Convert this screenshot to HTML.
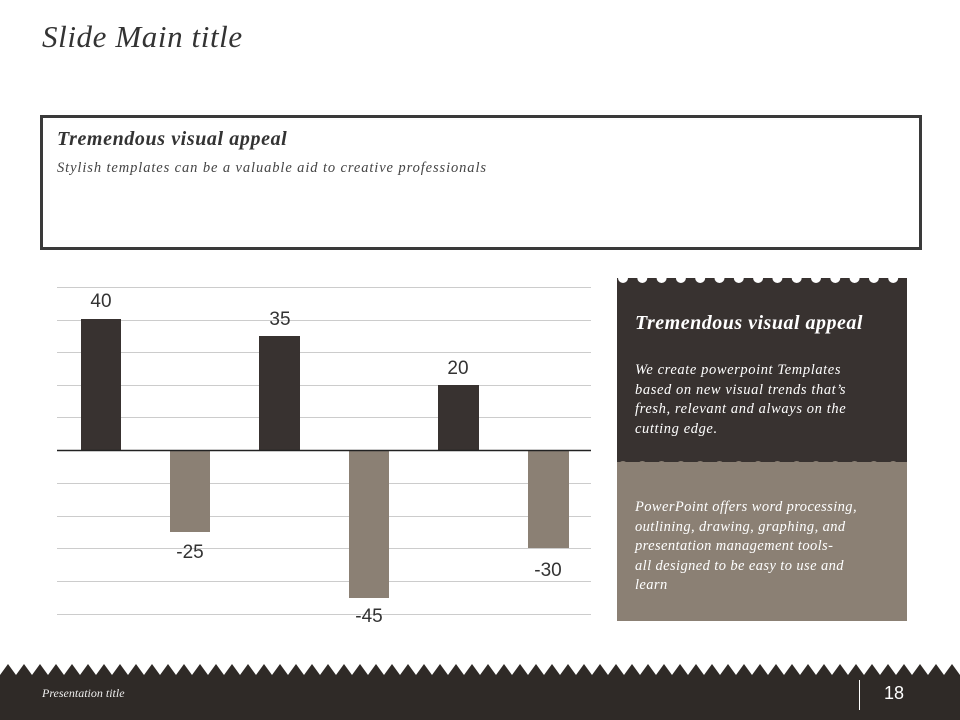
<!DOCTYPE html>
<html><head><style>
body{margin:0;width:960px;height:720px;background:#fff;position:relative;overflow:hidden;font-family:"Liberation Serif",serif}
.a{position:absolute;white-space:nowrap}
</style></head><body>
<div class="a" style="left:42px;top:19px;font-size:31px;letter-spacing:0.6px;font-style:italic;color:#333">Slide Main title</div>
<div class="a" style="left:40px;top:115px;width:876px;height:129px;border:3px solid #3a3a3a"></div>
<div class="a" style="left:57px;top:128px;font-size:20px;letter-spacing:0.6px;font-style:italic;font-weight:bold;color:#333">Tremendous visual appeal</div>
<div class="a" style="left:57px;top:160px;font-size:14.5px;letter-spacing:0.9px;font-style:italic;color:#444">Stylish templates can be a valuable aid to creative professionals</div>
<svg class="a" style="left:0;top:0" width="960" height="720">
<g stroke="#ccc" stroke-width="1">
<line x1="57" x2="591" y1="287.5" y2="287.5"/><line x1="57" x2="591" y1="320.5" y2="320.5"/><line x1="57" x2="591" y1="352.5" y2="352.5"/><line x1="57" x2="591" y1="385.5" y2="385.5"/><line x1="57" x2="591" y1="417.5" y2="417.5"/><line x1="57" x2="591" y1="483.5" y2="483.5"/><line x1="57" x2="591" y1="516.5" y2="516.5"/><line x1="57" x2="591" y1="548.5" y2="548.5"/><line x1="57" x2="591" y1="581.5" y2="581.5"/><line x1="57" x2="591" y1="614.5" y2="614.5"/>
</g>
<g fill="#383230"><rect x="81" y="319" width="40" height="131"/><rect x="259" y="336" width="41" height="114"/><rect x="438" y="385" width="41" height="65"/></g>
<g fill="#8b8074"><rect x="170" y="450" width="40" height="82"/><rect x="349" y="450" width="40" height="148"/><rect x="528" y="450" width="41" height="98"/></g>
<line x1="57" x2="591" y1="450.5" y2="450.5" stroke="#222" stroke-width="1.5"/>
<g font-family="Liberation Sans,sans-serif" font-size="19" fill="#333" text-anchor="middle">
<text x="101" y="307">40</text><text x="280" y="325">35</text><text x="458" y="374">20</text>
<text x="190" y="558">-25</text><text x="369" y="622">-45</text><text x="548" y="576">-30</text></g>
<rect x="617" y="278" width="290" height="186" fill="#383230"/>
<rect x="617" y="462" width="290" height="159" fill="#8b8074"/>
<g fill="#fff" id="sc"></g>
<path id="tt" fill="#2f2a27" d=""/>
<line x1="859.5" x2="859.5" y1="680" y2="710" stroke="#fff"/>
</svg>
<div class="a" style="left:635px;top:312px;font-size:20px;letter-spacing:0.5px;font-style:italic;font-weight:bold;color:#fff">Tremendous visual appeal</div>
<div class="a" style="left:635px;top:361px;font-size:14.5px;letter-spacing:0.6px;line-height:19.5px;font-style:italic;color:#fff">We create powerpoint Templates<br>based on new visual trends that’s<br>fresh, relevant and always on the<br>cutting edge.</div>
<div class="a" style="left:635px;top:498px;font-size:14.5px;letter-spacing:0.4px;line-height:19.5px;font-style:italic;color:#fff">PowerPoint offers word processing,<br>outlining, drawing, graphing, and<br>presentation management tools-<br>all designed to be easy to use and<br>learn</div>
<div class="a" style="left:42px;top:686px;font-size:12px;font-style:italic;color:#eee">Presentation title</div>
<div class="a" style="left:884px;top:683px;font-size:18px;font-family:'Liberation Sans',sans-serif;color:#fff">18</div>
<script>
var s='',g=document.getElementById('sc');
for(var x=623;x<907;x+=19.3){s+='<circle cx="'+x+'" cy="278" r="5"/>';s+='<circle cx="'+x+'" cy="466" r="5" fill="#8b8074"/>';}
g.innerHTML=s;
var d='M0,720 L0,675';for(var x=0;x<960;x+=16){d+=' L'+(x+8)+',664 L'+(x+16)+',675';}d+=' L960,720 Z';
document.getElementById('tt').setAttribute('d',d);
</script>
</body></html>
